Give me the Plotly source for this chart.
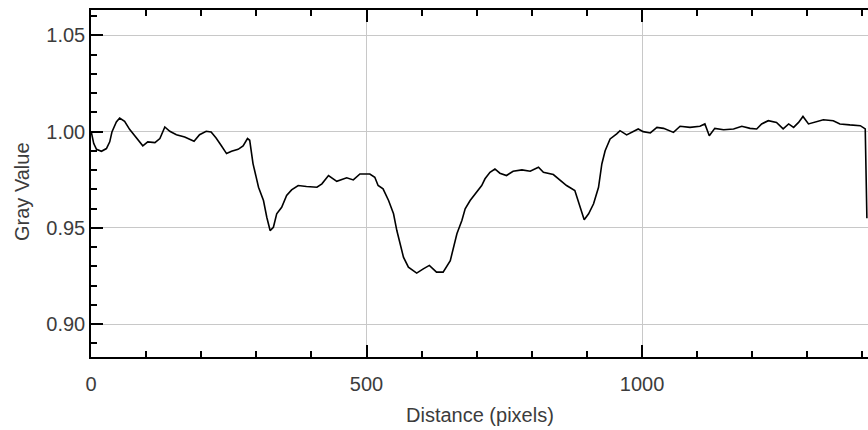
import plotly.graph_objects as go

distance = [0.5, 5, 10, 19, 28, 34, 38, 46, 52, 61, 70, 79, 87, 94, 103, 116, 125, 134, 143, 155,
            170, 179, 187, 197, 209, 218, 227, 236, 246, 255, 267, 276, 284, 288, 291, 294, 304,
            313, 319, 325, 331, 337, 346, 355, 364, 376, 391, 410, 419, 431, 446, 464, 476, 488,
            506, 515, 521, 530, 540, 549, 555, 567, 576, 591, 603, 614, 627, 639, 652, 655, 664,
            673, 679, 688, 700, 709, 715, 724, 733, 742, 754, 766, 782, 797, 812, 821, 839, 851,
            863, 878, 884, 891, 895, 903, 912, 921, 927, 933, 942, 954, 960, 972, 984, 993, 1002,
            1015, 1027, 1039, 1057, 1069, 1087, 1105, 1114, 1122, 1132, 1148, 1166, 1181, 1196,
            1208, 1217, 1229, 1244, 1256, 1266, 1275, 1284, 1292, 1302, 1314, 1329, 1347, 1359,
            1377, 1396, 1405, 1408]
gray = [0.9998, 0.9938, 0.9908, 0.9898, 0.9912, 0.9947, 0.9998, 1.0050, 1.0071, 1.0053, 1.0012,
        0.9981, 0.9955, 0.9926, 0.9947, 0.9943, 0.9964, 1.0024, 1.0002, 0.9984, 0.9972, 0.9960,
        0.9950, 0.9984, 1.0002, 0.9998, 0.9967, 0.9929, 0.9886, 0.9898, 0.9908, 0.9926, 0.9964,
        0.9955, 0.9895, 0.9834, 0.9711, 0.9642, 0.9555, 0.9486, 0.9503, 0.9573, 0.9607, 0.9668,
        0.9697, 0.9720, 0.9715, 0.9711, 0.9729, 0.9772, 0.9742, 0.9760, 0.9749, 0.9780, 0.9780,
        0.9763, 0.9720, 0.9703, 0.9642, 0.9573, 0.9486, 0.9348, 0.9296, 0.9265, 0.9287, 0.9305,
        0.9270, 0.9270, 0.9330, 0.9365, 0.9469, 0.9538, 0.9599, 0.9642, 0.9685, 0.9720, 0.9755,
        0.9789, 0.9806, 0.9784, 0.9772, 0.9794, 0.9801, 0.9794, 0.9815, 0.9789, 0.9777, 0.9749,
        0.9720, 0.9694, 0.9642, 0.9573, 0.9542, 0.9573, 0.9625, 0.9711, 0.9832, 0.9901, 0.9962,
        0.9988, 1.0005, 0.9983, 1.0000, 1.0014, 1.0000, 0.9993, 1.0022, 1.0017, 0.9996, 1.0028,
        1.0022, 1.0028, 1.0040, 0.9979, 1.0017, 1.0010, 1.0014, 1.0028, 1.0017, 1.0014, 1.0040,
        1.0057, 1.0048, 1.0014, 1.0040, 1.0022, 1.0048, 1.0079, 1.0040, 1.0048, 1.0062, 1.0057,
        1.0040, 1.0035, 1.0031, 1.0014, 0.9550]

x_range = [0, 1410]
y_range = [0.8829, 1.0632]
x_major = [0, 500, 1000]
y_major = [0.90, 0.95, 1.00, 1.05]
y_labels = ["0.90", "0.95", "1.00", "1.05"]

font_family = "Liberation Sans, Arial, sans-serif"
text_color = "#3c3c3c"
FS = 20

fig = go.Figure()
fig.add_trace(go.Scatter(x=distance, y=gray, mode="lines",
                         line=dict(color="black", width=1.6), showlegend=False,
                         hoverinfo="skip"))

fig.update_layout(
    width=868, height=430,
    margin=dict(l=91, r=0, t=10, b=73, autoexpand=False),
    paper_bgcolor="white", plot_bgcolor="white",
    font=dict(family=font_family, size=FS, color=text_color),
    xaxis=dict(
        range=x_range, tickmode="array", tickvals=x_major,
        ticktext=[str(v) for v in x_major], automargin=False,
        ticks="inside", ticklen=12, tickwidth=1.5, tickcolor="black",
        showline=True, linecolor="black", linewidth=1.5, mirror="ticks",
        showgrid=True, gridcolor="#c8c8c8", gridwidth=1.2, zeroline=False,
        minor=dict(dtick=100, tick0=0, ticks="inside", ticklen=6, tickwidth=1.5,
                   tickcolor="black", showgrid=False),
        ticklabelstandoff=8,
    ),
    yaxis=dict(
        range=y_range, tickmode="array", tickvals=y_major, ticktext=y_labels,
        automargin=False,
        ticks="inside", ticklen=12, tickwidth=1.5, tickcolor="black",
        showline=True, linecolor="black", linewidth=1.5,
        showgrid=True, gridcolor="#c8c8c8", gridwidth=1.2, zeroline=False,
        minor=dict(dtick=0.01, tick0=0.9, ticks="inside", ticklen=6, tickwidth=1.5,
                   tickcolor="black", showgrid=False),
        ticklabelstandoff=0,
    ),
    yaxis2=dict(
        range=y_range, overlaying="y", side="right", anchor="x", automargin=False,
        tickmode="array", tickvals=y_major, ticktext=["" for _ in y_major],
        ticks="inside", ticklen=6, tickwidth=1.5, tickcolor="black",
        showline=False, showgrid=False, zeroline=False, showticklabels=False,
        minor=dict(dtick=0.01, tick0=0.9, ticks="inside", ticklen=3, tickwidth=1.5,
                   tickcolor="black", showgrid=False),
    ),
    annotations=[
        dict(text="Gray Value", xref="paper", yref="paper", x=-0.0888, y=0.4755,
             xanchor="center", yanchor="middle", textangle=-90, showarrow=False,
             font=dict(size=FS, color=text_color)),
        dict(text="Distance (pixels)", xref="paper", yref="paper", x=0.5, y=-0.168,
             xanchor="center", yanchor="middle", showarrow=False,
             font=dict(size=FS, color=text_color)),
    ],
)

fig.write_html("out.html", config={"displayModeBar": False},
               post_script="document.body.style.margin='0px';"
               "document.body.style.overflow='hidden';")
